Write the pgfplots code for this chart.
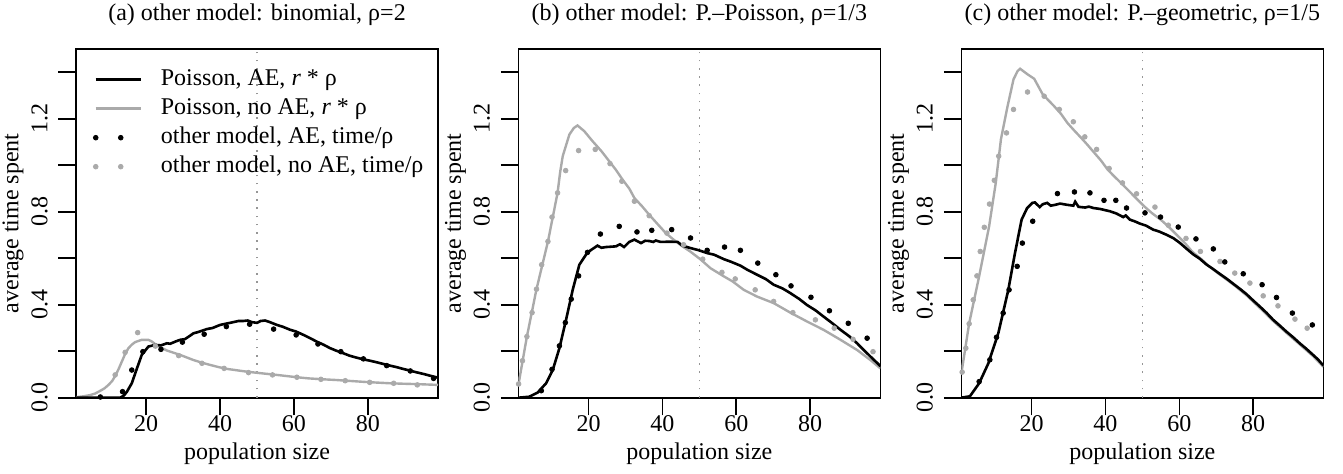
\documentclass[border=0pt]{standalone}
\usepackage{fontspec}
\setmainfont{Liberation Serif}
\usepackage{pgfplots}
\pgfplotsset{compat=1.18}
\definecolor{rgray}{RGB}{170,170,170}
\definecolor{dgray}{RGB}{150,150,150}
\pgfplotsset{
  every axis title shift=0pt,
  panel/.style={
    scale only axis, width=181pt, height=174.35pt,
    xmin=1, xmax=99, ymin=0, ymax=1.5,
    axis line style={line width=0.85pt},
    every tick/.style={line width=0.85pt, black},
    tick align=outside, tick pos=left,
    major tick length=8.8pt,
    xtick={20,40,60,80}, xticklabels={20,40,60,80},
    ytick={0,0.2,0.4,0.6,0.8,1.0,1.2,1.4},
    yticklabels={0.0,,0.4,,0.8,,1.2,},
    /pgf/number format/assume math mode=true,
    xticklabel style={anchor=base, inner sep=0pt},
    xticklabel shift=8.2pt,
    yticklabel style={rotate=90, anchor=base, inner sep=0pt},
    yticklabel shift=5.55pt,
    xlabel={population size}, ylabel={average time spent},
    xlabel style={at={(axis description cs:0.5,-0.17694)}, anchor=base, inner sep=0pt},
    ylabel style={at={(axis description cs:-0.15884,0.5)}, anchor=base, inner sep=0pt},
    title style={at={(axis description cs:0.5,1.08145)}, anchor=base, inner sep=0pt},
    clip=true,
  },
  bl/.style={black, line width=1.3pt, forget plot},
  gl/.style={rgray, line width=1.2pt, forget plot},
  bd/.style={only marks, mark=*, mark size=1.17pt, black, forget plot},
  gd/.style={only marks, mark=*, mark size=1.17pt, rgray, mark options={draw=rgray, fill=rgray}, forget plot},
  vl/.style={dgray, line width=0.6pt, dash pattern=on 0.8pt off 3.3pt, forget plot},
}
\begin{document}
\fontsize{12}{14}\selectfont
\begin{tikzpicture}
\useasboundingbox (0,0) rectangle (671.5pt,237pt);
% ---------------- panel (a)
\begin{axis}[panel, at={(38pt,38.15pt)}, anchor=south west,
  title={(a) other model: binomial, ρ=2},
  legend style={draw=none, fill=none, at={(axis description cs:0.04586,0.9547)}, anchor=north west,
    inner sep=0pt, row sep=0pt, column sep=0pt,
    nodes={inner sep=1.35pt, text height=8.8pt, text depth=3pt}},
  legend cell align=left]
\addplot[vl] coordinates {(50,0) (50,1.5)};
\addplot[gl] coordinates {(1,0.002) (3,0.006) (4.8,0.011) (6.2,0.018) (7.5,0.029) (8.7,0.04) (9.8,0.055) (10.8,0.072) (11.6,0.093) (12.5,0.122) (13.4,0.155) (14.3,0.188) (15.2,0.213) (16.1,0.228) (17,0.239) (18.8,0.249) (20.6,0.249) (21.5,0.242) (22.4,0.231) (24,0.216) (25.6,0.203) (27.5,0.193) (29.2,0.184) (31,0.173) (32.8,0.162) (35,0.151) (37.3,0.141) (39.5,0.132) (41.8,0.124) (44.5,0.118) (47.2,0.112) (50,0.107) (53.6,0.101) (57,0.095) (60.8,0.088) (64,0.083) (68,0.079) (71.5,0.076) (75.2,0.072) (79,0.068) (82.4,0.065) (86,0.062) (89.7,0.06) (94,0.058) (99,0.055)};
\addplot[bl] coordinates {(1,0) (13,0) (14,0.01) (14.8,0.026) (16.1,0.062) (17.5,0.126) (18.8,0.184) (20.6,0.22) (22.4,0.227) (24,0.225) (25.6,0.234) (26.5,0.232) (28,0.242) (29.2,0.249) (30.5,0.252) (32,0.268) (32.8,0.277) (34,0.282) (36.4,0.295) (38,0.3) (40,0.313) (41.5,0.318) (43.6,0.325) (45,0.33) (46.3,0.33) (47.5,0.332) (48.6,0.325) (50,0.322) (51,0.33) (52.2,0.332) (53.5,0.325) (55.4,0.313) (57,0.305) (59,0.292) (60.5,0.285) (62.6,0.27) (64.5,0.255) (66.2,0.241) (68,0.228) (69.8,0.213) (71.5,0.202) (73.4,0.191) (75,0.181) (77,0.172) (78.5,0.166) (80.6,0.159) (82.5,0.152) (84.2,0.145) (86,0.138) (87.9,0.131) (89.5,0.124) (91.5,0.116) (93.5,0.108) (95.1,0.102) (97,0.094) (99,0.086)};
\addplot[gd] coordinates {(11.6,0.098) (14.3,0.195) (17.7,0.28) (22.5,0.222) (28.8,0.181) (35.1,0.148) (41.1,0.126) (47.7,0.108) (54.2,0.098) (60.8,0.088) (67.3,0.079) (73.9,0.073) (80.5,0.066) (87.0,0.062) (93.4,0.055)};
\addplot[bd] coordinates {(7.6,0.003) (13.6,0.026) (16.1,0.119) (19.1,0.198) (24.0,0.208) (29.8,0.239) (35.7,0.273) (41.7,0.306) (48.0,0.316) (54.5,0.295) (60.6,0.27) (66.5,0.231) (72.7,0.198) (78.8,0.167) (85.1,0.138) (91.5,0.115) (97.8,0.083)};
\addlegendimage{legend image code/.code={\path[draw=none,fill=none] (-1.2pt,-5pt) rectangle (31.2pt,5pt); \draw[black, line width=1.3pt] (0pt,0pt) -- (22.5pt,0pt);}}
\addlegendentry{Poisson, AE, \textit{r} * ρ}
\addlegendimage{legend image code/.code={\path[draw=none,fill=none] (-1.2pt,-5pt) rectangle (31.2pt,5pt); \draw[rgray, line width=1.2pt] (0pt,0pt) -- (22.5pt,0pt);}}
\addlegendentry{Poisson, no AE, \textit{r} * ρ}
\addlegendimage{legend image code/.code={\path[draw=none,fill=none] (-1.2pt,-5pt) rectangle (31.2pt,5pt); \fill[black] (0pt,0pt) circle (1.17pt); \fill[black] (12.5pt,0pt) circle (1.17pt);}}
\addlegendentry{other model, AE, time/ρ}
\addlegendimage{legend image code/.code={\path[draw=none,fill=none] (-1.2pt,-5pt) rectangle (31.2pt,5pt); \fill[rgray] (0pt,0pt) circle (1.17pt); \fill[rgray] (12.5pt,0pt) circle (1.17pt);}}
\addlegendentry{other model, no AE, time/ρ}
\end{axis}
% ---------------- panel (b)
\begin{axis}[panel, at={(259.2pt,38.15pt)}, anchor=south west,
  title={(b) other model: P.–Poisson, ρ=1/3}]
\addplot[vl] coordinates {(50,0) (50,1.5)};
\addplot[gl] coordinates {(1,0.055) (3.3,0.263) (5.9,0.467) (9.0,0.672) (11.6,0.881) (12.3,0.97) (13.0,1.039) (14.8,1.132) (16,1.16) (17,1.171) (18.8,1.147) (21.1,1.103) (23.5,1.06) (25.6,1.017) (27.4,0.98) (29.2,0.938) (31,0.9) (32.4,0.859) (34.5,0.823) (36.4,0.787) (38.5,0.75) (40.9,0.708) (43,0.68) (45.4,0.651) (47.5,0.629) (50.3,0.595) (53.0,0.557) (56.6,0.522) (59,0.5) (62.0,0.464) (65.6,0.435) (68,0.42) (70.1,0.407) (74.6,0.366) (79.1,0.328) (83.6,0.292) (88.2,0.249) (92.7,0.205) (96.3,0.162) (99,0.126)};
\addplot[bl] coordinates {(1,0) (3.9,0.004) (6.2,0.022) (8.5,0.062) (10.3,0.119) (12.1,0.213) (13.9,0.335) (15.7,0.464) (17.5,0.572) (19.7,0.625) (22.4,0.654) (23.5,0.645) (24.7,0.648) (26.5,0.65) (27.4,0.651) (28.5,0.66) (29.6,0.648) (31,0.67) (32.4,0.68) (34.2,0.665) (35.3,0.675) (36.4,0.674) (37.5,0.67) (38.2,0.676) (39.5,0.67) (41.8,0.671) (44.1,0.67) (45.4,0.654) (47.5,0.644) (49.9,0.634) (52.1,0.622) (54,0.615) (56.6,0.596) (58.5,0.585) (61.1,0.568) (63,0.55) (65.6,0.529) (68,0.51) (70.1,0.486) (72.5,0.47) (74.6,0.45) (77,0.425) (79.1,0.399) (81.5,0.375) (83.6,0.349) (86,0.32) (88.2,0.292) (90.5,0.265) (92.7,0.234) (94.5,0.205) (96.3,0.177) (99,0.136)};
\addplot[gd] coordinates {(1.05,0.059) (2.1,0.159) (3.3,0.263) (4.7,0.366) (5.9,0.467) (7.3,0.572) (9.0,0.672) (10.1,0.777) (11.6,0.881) (13.8,0.977) (17.3,1.063) (21.8,1.068) (25.8,1.007) (29.0,0.931) (32.4,0.845) (36.4,0.783) (41.2,0.708) (45.7,0.658) (50.9,0.596) (56.1,0.539) (59.7,0.511) (65.1,0.464) (70.1,0.414) (75.3,0.366) (81.4,0.335) (86.5,0.299) (91.6,0.251) (97.0,0.198)};
\addplot[bd] coordinates {(7.2,0.03) (10.1,0.122) (12.1,0.223) (13.7,0.323) (15.3,0.424) (17.3,0.524) (19.7,0.625) (23.2,0.704) (28.3,0.737) (33.1,0.713) (37.1,0.72) (42.5,0.723) (47.6,0.687) (52.1,0.634) (56.8,0.648) (61.1,0.634) (65.8,0.579) (70.7,0.529) (74.8,0.481) (80.2,0.432) (85.2,0.374) (90.3,0.32) (95.4,0.256)};
\end{axis}
% ---------------- panel (c)
\begin{axis}[panel, at={(480.7pt,38.15pt)}, anchor=south west,
  title={(c) other model: P.–geometric, ρ=1/5}]
\addplot[vl] coordinates {(50,0) (50,1.5)};
\addplot[gl] coordinates {(1,0.105) (3.1,0.32) (5.8,0.522) (8.5,0.737) (10.3,0.924) (11.7,1.111) (13.5,1.254) (15.1,1.369) (16.2,1.405) (16.9,1.415) (18.9,1.391) (20.7,1.372) (23.0,1.305) (26.1,1.254) (28,1.22) (29.7,1.182) (31.5,1.15) (33.4,1.118) (35,1.09) (37.0,1.053) (38.8,1.02) (40.6,0.981) (42.5,0.95) (44.2,0.924) (46,0.895) (47.8,0.866) (50.5,0.823) (52.5,0.795) (55,0.765) (57.0,0.737) (59,0.705) (61.5,0.665) (63.5,0.628) (66.0,0.595) (68,0.566) (70.5,0.535) (72.8,0.508) (75,0.482) (78.2,0.44) (81.8,0.386) (85.4,0.33) (89,0.279) (92.6,0.229) (96.2,0.179) (99,0.133)};
\addplot[bl] coordinates {(1,0) (3.3,0.006) (5.8,0.062) (8.3,0.148) (11.0,0.278) (13.7,0.464) (15.5,0.622) (17.3,0.766) (18.8,0.816) (20.2,0.838) (20.9,0.84) (22.2,0.82) (23,0.832) (24.2,0.838) (25.2,0.826) (26.5,0.83) (27.7,0.835) (29.5,0.83) (31.3,0.826) (31.8,0.843) (32.7,0.821) (34.5,0.818) (35.5,0.822) (36.7,0.816) (38.5,0.812) (41.2,0.802) (43,0.792) (44.8,0.777) (45.5,0.784) (46.6,0.766) (48,0.758) (49.3,0.749) (51,0.74) (52.9,0.723) (54.5,0.715) (56.5,0.701) (58.5,0.685) (60.2,0.665) (62,0.64) (63.8,0.616) (65.5,0.598) (67.4,0.572) (69,0.555) (71.0,0.532) (72.8,0.512) (74.6,0.49) (76.5,0.467) (78.2,0.445) (80,0.418) (81.8,0.392) (83.6,0.365) (85.4,0.335) (87.2,0.31) (89.0,0.284) (90.8,0.26) (92.6,0.234) (94.4,0.21) (96.2,0.184) (97.5,0.165) (99,0.138)};
\addplot[gd] coordinates {(1.2,0.11) (2.2,0.213) (3.1,0.318) (4.2,0.421) (5.2,0.524) (6.1,0.629) (7.2,0.733) (8.6,0.833) (9.9,0.935) (11.1,1.039) (13.2,1.139) (15.1,1.24) (18.9,1.315) (23.4,1.297) (27.5,1.24) (31.3,1.187) (34.4,1.122) (37.6,1.068) (41.0,0.986) (44.6,0.924) (48.4,0.877) (53.4,0.82) (57.0,0.742) (61.8,0.685) (65.7,0.629) (71.0,0.586) (75.0,0.536) (79.1,0.493) (82.7,0.438) (86.7,0.395) (91.3,0.338) (94.6,0.299)};
\addplot[bd] coordinates {(5.8,0.069) (8.7,0.163) (10.5,0.26) (12.3,0.364) (13.9,0.464) (16.1,0.565) (17.5,0.665) (20.3,0.759) (27.0,0.878) (31.6,0.885) (35.8,0.881) (39.6,0.849) (42.8,0.849) (45.7,0.816) (50.7,0.795) (54.9,0.777) (59.7,0.734) (64.5,0.683) (69.2,0.64) (72.3,0.584) (77.3,0.533) (82.4,0.486) (86.3,0.431) (90.6,0.364) (96.0,0.313)};
\end{axis}
\end{tikzpicture}
\end{document}
